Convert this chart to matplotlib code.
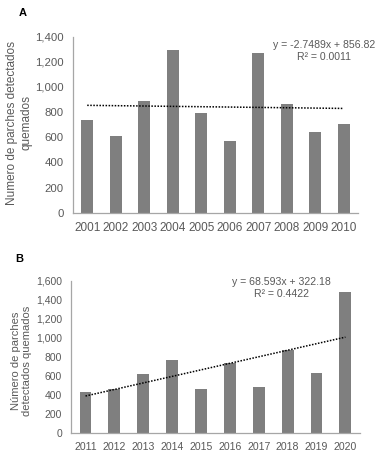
import matplotlib.pyplot as plt
import numpy as np

plt.rcParams['font.family'] = ['Liberation Sans', 'DejaVu Sans']

years_a = ['2001', '2002', '2003', '2004', '2005', '2006', '2007', '2008', '2009', '2010']
patches_a = [740, 607, 888, 1291, 793, 567, 1273, 865, 642, 706]
trend_a = (-2.7489, 856.82)
r2_a = 0.0011

years_b = ['2011', '2012', '2013', '2014', '2015', '2016', '2017', '2018', '2019', '2020']
patches_b = [432, 462, 624, 768, 467, 738, 484, 878, 636, 1480]
trend_b = (68.593, 322.18)
r2_b = 0.4422

bar_color = '#7f7f7f'
text_color = '#595959'
spine_color = '#a6a6a6'

fig = plt.figure(figsize=(3.78, 4.57), dpi=100)


def panel(rect, years, values, trend, r2, ymax, xfs, yfs, eq_xy):
    ax = fig.add_axes(rect)
    idx = np.arange(len(years))
    ax.bar(idx, values, width=0.41, color=bar_color)
    xs = np.array([idx[0], idx[-1]])
    ax.plot(xs, trend[0] * (xs + 1) + trend[1], color='black', linestyle=(0, (1, 1)), linewidth=1.1)
    ax.set_xlim(-0.5, len(years) - 0.5)
    ax.set_ylim(0, ymax)
    ax.set_yticks(np.arange(0, ymax + 1, 200))
    ax.set_yticklabels([f'{v:,}' for v in range(0, ymax + 1, 200)])
    ax.set_xticks(idx)
    ax.set_xticklabels(years)
    ax.tick_params(length=0, colors=text_color, pad=6.5)
    ax.tick_params(axis='x', labelsize=xfs)
    ax.tick_params(axis='y', labelsize=yfs)
    for s in ['top', 'right']:
        ax.spines[s].set_visible(False)
    for s in ['left', 'bottom']:
        ax.spines[s].set_color(spine_color)
        ax.spines[s].set_linewidth(0.9)
    sign = '-' if trend[1] < 0 else '+'
    eq = f'y = {trend[0]}x {sign} {abs(trend[1])}'
    fig.text(eq_xy[0], eq_xy[1], eq, ha='center', va='center', fontsize=7.6, color=text_color)
    fig.text(eq_xy[0], eq_xy[1] - 0.026, f'R² = {r2}', ha='center', va='center', fontsize=7.6, color=text_color)
    return ax


ax_a = panel([0.193, 0.5346, 0.754, 0.3851], years_a, patches_a, trend_a, r2_a, 1400, 8.5, 8.2, (0.857, 0.9015))
ax_b = panel([0.188, 0.0519, 0.764, 0.3339], years_b, patches_b, trend_b, r2_b, 1600, 7.6, 7.5, (0.745, 0.3836))

fig.text(0.05, 0.731, 'Numero de parches detectados\nquemados', rotation=90, ha='center', va='center',
         fontsize=8.5, color=text_color, linespacing=1.3)
fig.text(0.057, 0.2105, 'Número de parches\ndetectados quemados', rotation=90, ha='center', va='center',
         fontsize=8, color=text_color, linespacing=1.05)

fig.text(0.061, 0.972, 'A', ha='center', va='center', fontsize=8, fontweight='bold')
fig.text(0.050, 0.433, 'B', ha='center', va='center', fontsize=8, fontweight='bold')

fig.savefig('out.png', dpi=100)
